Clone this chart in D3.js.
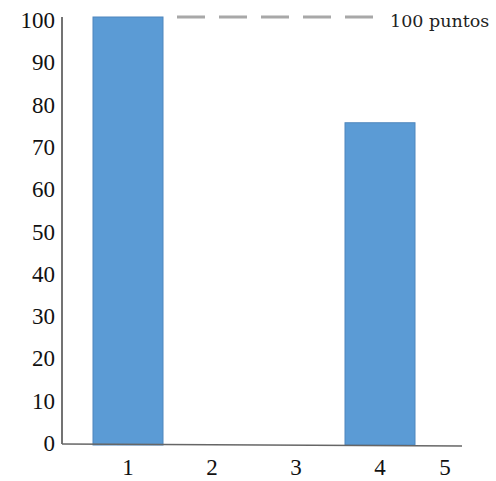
<!DOCTYPE html>
<html><head><meta charset="utf-8">
<script src="https://cdn.jsdelivr.net/npm/d3@7"></script>
<style>body{margin:0;background:#fff}</style>
</head><body>
<svg id="c" width="496" height="481"></svg>
<script>
const categories = ["1","2","3","4","5"];
const values = [100, 0, 0, 75, 0];
const yTicks = [0,10,20,30,40,50,60,70,80,90,100];
const refValue = 100;
const refLabel = "100 puntos";

const svg = d3.select("#c");
const x0 = 62, x1 = 462, yTop = 20, yBot = 443;
const y = d3.scaleLinear().domain([0,100]).range([yBot, yTop]);
const x = d3.scaleBand().domain(categories).range([93, 499]).paddingInner(1/6).paddingOuter(0);
const font = "'Liberation Serif','DejaVu Serif',serif";

// bars
svg.selectAll("rect.bar").data(values.map((v,i)=>({v,c:categories[i]})).filter(d=>d.v>0))
  .enter().append("rect")
  .attr("x", d=>x(d.c)).attr("width", x.bandwidth())
  .attr("y", d=>y(d.v)-3).attr("height", d=>yBot+2-(y(d.v)-3))
  .attr("fill","#5b9bd5").attr("stroke","#4f86bd").attr("stroke-width",1);

// reference line
svg.append("line").attr("x1",177).attr("x2",375).attr("y1",y(refValue)-3).attr("y2",y(refValue)-3)
  .attr("stroke","#a8a8a8").attr("stroke-width",3).attr("stroke-dasharray","28,14");
svg.append("text").attr("x",390).attr("y",27).text(refLabel)
  .attr("font-family","'DejaVu Serif',serif").attr("font-size",17.5).attr("fill","#222");

// axes lines
svg.append("line").attr("x1",x0).attr("x2",x0).attr("y1",17).attr("y2",yBot+1)
  .attr("stroke","#444").attr("stroke-width",1.5);
svg.append("line").attr("x1",x0).attr("x2",x1).attr("y1",yBot+1).attr("y2",yBot+3)
  .attr("stroke","#666").attr("stroke-width",1.5);

// y tick labels
svg.selectAll("text.yt").data(yTicks).enter().append("text")
  .attr("x",55).attr("y",d=>y(d)).attr("dy","0.35em").attr("text-anchor","end")
  .attr("font-family",font).attr("font-size",23).attr("fill","#111").text(d=>d);

// x tick labels
svg.selectAll("text.xt").data(categories).enter().append("text")
  .attr("x",d=>Math.min(x(d)+x.bandwidth()/2, x1-17)).attr("y",475).attr("text-anchor","middle")
  .attr("font-family",font).attr("font-size",23).attr("fill","#111").text(d=>d);
</script>
</body></html>
